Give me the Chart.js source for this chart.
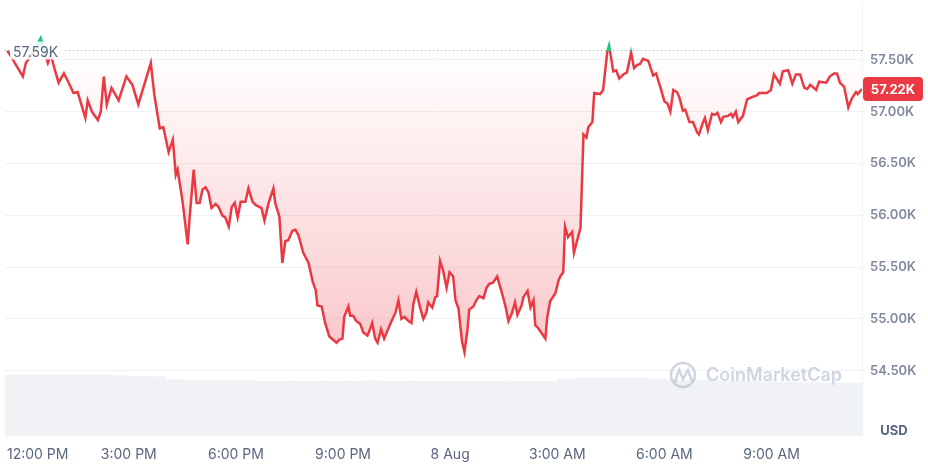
<!DOCTYPE html>
<html>
<head>
<meta charset="utf-8">
<script src="https://cdn.jsdelivr.net/npm/chart.js@4/dist/chart.umd.min.js"></script>
<style>
  html, body { margin: 0; padding: 0; background: #fff; }
  #wrap { width: 928px; height: 465px; }
</style>
</head>
<body>
<div id="wrap"><canvas id="priceChart" width="928" height="465"></canvas></div>
<script>
// minutes from 12:00 PM (7 Aug)
const times = [-24, 2, 7, 20, 32, 44, 49, 55, 62, 71, 79, 87, 94, 107, 111, 118, 128, 133, 138, 143,
  151, 163, 176, 186, 196, 217, 223, 232, 238, 247, 254, 259, 262, 270, 279, 282, 289, 294, 299, 304,
  309, 314, 319, 326, 331, 337, 342, 348, 353, 358, 363, 368, 376, 381, 388, 393, 403, 408, 415, 423,
  426, 433, 438, 443, 448, 455, 460, 465, 473, 482, 489, 494, 497, 504, 510, 517, 529, 534, 539, 542,
  549, 552, 557, 562, 569, 574, 581, 584, 589, 594, 598, 604, 609, 620, 628, 633, 638, 643, 650, 655,
  658, 663, 670, 675, 680, 683, 690, 695, 698, 703, 708, 714, 719, 725, 729, 734, 740, 744, 749, 752,
  759, 764, 769, 776, 781, 786, 792, 799, 808, 813, 818, 824, 829, 833, 840, 843, 850, 855, 860, 863,
  868, 880, 883, 888, 897, 902, 905, 910, 913, 918, 925, 928, 939, 944, 949, 952, 959, 962, 972, 977,
  984, 987, 994, 999, 1004, 1011, 1017, 1024, 1029, 1034, 1039, 1044, 1053, 1061, 1066, 1073, 1080, 1085, 1090, 1095,
  1101, 1105, 1111, 1115, 1122, 1128, 1135, 1138, 1145, 1148, 1153, 1160, 1165, 1169, 1175, 1179, 1187, 1192, 1195, 1200,
  1204, 1212, 1219, 1227, 1236, 1239, 1246, 1252, 1259, 1264, 1274, 1279, 1288, 1295, 1301, 1308, 1315, 1320, 1325, 1335,
  1340, 1352, 1358, 1365, 1370, 1375, 1382, 1389, 1395, 1402, 1405, 1412];

const prices = [57590, 57340, 57470, 57580, 57710, 57470, 57550, 57420, 57280, 57370, 57280, 57180, 57190, 56940, 57110, 57000, 56920, 57000, 57340, 57070,
  57230, 57110, 57340, 57260, 57070, 57470, 57160, 56840, 56850, 56610, 56730, 56390, 56440, 56150, 55720, 55960, 56440, 56120, 56120, 56250,
  56270, 56220, 56070, 56110, 56080, 56000, 55980, 55890, 56080, 56120, 55980, 56130, 56130, 56260, 56130, 56100, 56070, 55950, 56120, 56260,
  56120, 55990, 55540, 55750, 55760, 55850, 55860, 55810, 55640, 55540, 55360, 55280, 55130, 55120, 54960, 54830, 54770, 54800, 54810, 55020,
  55120, 55030, 55030, 54980, 54950, 54870, 54840, 54880, 54960, 54810, 54770, 54900, 54810, 54960, 55060, 55180, 55000, 55020, 54980, 54960,
  55140, 55260, 55100, 55000, 55060, 55160, 55110, 55210, 55220, 55560, 55470, 55300, 55450, 55410, 55180, 55100, 54780, 54680, 54890, 55090,
  55120, 55180, 55220, 55200, 55300, 55340, 55350, 55410, 55230, 55120, 54980, 55060, 55160, 55040, 55130, 55210, 55270, 55110, 55180, 54940,
  54910, 54810, 55010, 55170, 55250, 55370, 55410, 55450, 55890, 55790, 55840, 55640, 55880, 56780, 56750, 56850, 56900, 57180, 57170, 57210,
  57580, 57640, 57390, 57400, 57320, 57360, 57380, 57570, 57420, 57450, 57460, 57510, 57490, 57350, 57370, 57240, 57100, 57080, 57000, 57210,
  57190, 57140, 57010, 57020, 56900, 56900, 56800, 56780, 56900, 56940, 56820, 56980, 56970, 56990, 56900, 56950, 56960, 56980, 56950, 57000,
  56900, 56960, 57120, 57140, 57160, 57180, 57180, 57180, 57210, 57360, 57270, 57390, 57400, 57270, 57360, 57360, 57230, 57220, 57260, 57210,
  57290, 57280, 57340, 57370, 57370, 57280, 57240, 57040, 57130, 57190, 57170, 57220];

// 30 minute volume buckets (billions USD)
const volTimes = [-13, 17, 47, 77, 107, 137, 167, 197, 227, 257, 287, 317, 347, 377, 407, 437,
  467, 497, 527, 557, 587, 617, 647, 677, 707, 737, 767, 797, 827, 857, 887, 917,
  947, 977, 1007, 1037, 1067, 1097, 1127, 1157, 1187, 1217, 1247, 1277, 1307, 1337, 1367, 1397];
const volumes = [34.0, 34.0, 33.9, 34.0, 33.9, 33.8, 33.5, 33.2, 32.9, 31.3, 31.2, 31.1, 31.0, 30.7, 30.6, 30.6,
  30.6, 30.6, 30.6, 30.6, 30.7, 30.6, 30.6, 30.6, 30.6, 30.6, 30.5, 30.5, 30.6, 30.5, 30.6, 31.8,
  32.2, 32.3, 32.3, 32.2, 31.8, 31.2, 31.0, 30.8, 30.6, 30.4, 30.2, 30.0, 29.8, 29.7, 29.6, 29.5];

const yTicks = [54500, 55000, 55500, 56000, 56500, 57000, 57500];
const xTicks = [0, 180, 360, 540, 720, 900, 1080, 1260];
const xLabels = ['12:00 PM', '3:00 PM', '6:00 PM', '9:00 PM', '8 Aug', '3:00 AM', '6:00 AM', '9:00 AM'];
const openPrice = 57590;
const lastPrice = 57220;

const RED = '#ea3943';
const GREEN = '#16c784';
const FONT = 'Inter, "Noto Sans", sans-serif';

function fmtK(v) {
    return (v / 1000).toFixed(2) + 'K';
}

function noPad(s) {
    s.paddingTop = 0;
    s.paddingBottom = 0;
    s.paddingLeft = 0;
    s.paddingRight = 0;
}

const overlay = {
    id: 'overlay',
    afterDraw(chart) {
        const c = chart.ctx;
        const x = chart.scales.x;
        const y = chart.scales.y;

        // x labels, first one kept inside the canvas
        c.save();
        c.font = '14px ' + FONT;
        c.fillStyle = '#58667e';
        c.textBaseline = 'middle';
        xTicks.forEach((t, i) => {
            const w = c.measureText(xLabels[i]).width;
            let left = x.getPixelForValue(t) - w / 2;
            if (left < 7) left = 7;
            c.fillText(xLabels[i], left, 455);
        });

        // open price label
        const yo = y.getPixelForValue(openPrice);
        c.fillStyle = 'rgba(255,255,255,0.85)';
        c.fillRect(10, yo - 9, 53, 18);
        c.fillStyle = '#58667e';
        c.font = '14px ' + FONT;
        c.fillText(fmtK(openPrice), 13, yo + 2);

        // last price tag
        const yl = y.getPixelForValue(lastPrice);
        c.fillStyle = RED;
        c.beginPath();
        c.roundRect(863, yl - 12, 60, 24, 4);
        c.fill();
        c.fillStyle = '#fff';
        c.font = 'bold 13px ' + FONT;
        c.textAlign = 'center';
        c.fillText(fmtK(lastPrice), 893, yl + 1);

        // unit
        c.fillStyle = '#58667e';
        c.font = 'bold 13px ' + FONT;
        c.fillText('USD', 894, 431);
        c.restore();
    },
    afterDatasetsDraw(chart) {
        // watermark
        const c = chart.ctx;
        c.save();
        c.strokeStyle = 'rgba(170,181,198,0.55)';
        c.lineWidth = 2.5;
        c.beginPath();
        c.arc(683, 375, 12, 0, Math.PI * 2);
        c.stroke();
        c.beginPath();
        c.moveTo(675, 382);
        c.lineTo(679, 370);
        c.lineTo(683, 379);
        c.lineTo(688, 370);
        c.lineTo(692, 381);
        c.stroke();
        c.fillStyle = 'rgba(170,181,198,0.55)';
        c.font = '600 18px ' + FONT;
        c.textBaseline = 'middle';
        c.fillText('CoinMarketCap', 706, 376);
        c.restore();
    }
};

const ctx = document.getElementById('priceChart').getContext('2d');
const chart = new Chart(ctx, {
    data: {
        datasets: [
            {
                type: 'line',
                label: 'Price',
                data: prices.map((p, i) => ({ x: times[i], y: p })),
                borderColor: RED,
                borderWidth: 2.5,
                pointRadius: 0,
                tension: 0,
                yAxisID: 'y',
                order: 0,
                fill: { target: { value: openPrice }, above: 'rgba(22,199,132,0.3)', below: 'rgba(234,57,67,0.15)' }
            },
            {
                type: 'line',
                label: 'Open',
                data: [{ x: -28, y: openPrice }, { x: 1412, y: openPrice }],
                borderColor: '#9aa3b5',
                borderWidth: 1,
                borderDash: [1, 3],
                pointRadius: 0,
                yAxisID: 'y',
                order: 1
            },
            {
                type: 'bar',
                label: 'Volume',
                data: volumes.map((v, i) => ({ x: volTimes[i], y: v })),
                backgroundColor: '#f0f2f5',
                barPercentage: 1,
                categoryPercentage: 1,
                yAxisID: 'yv',
                order: 2
            }
        ]
    },
    options: {
        responsive: false,
        animation: false,
        devicePixelRatio: 1,
        layout: { padding: { left: 5, top: 5, right: 0, bottom: 0 } },
        plugins: {
            legend: { display: false },
            tooltip: { enabled: false }
        },
        scales: {
            x: {
                type: 'linear',
                offset: false,
                min: -28,
                max: 1412,
                ticks: { display: false },
                grid: { display: false },
                border: { display: false },
                afterFit: s => { s.height = 29; noPad(s); }
            },
            y: {
                position: 'right',
                min: 53870,
                max: 58030,
                afterBuildTicks: s => { s.ticks = yTicks.map(v => ({ value: v })); },
                ticks: {
                    callback: v => fmtK(v),
                    color: '#808a9d',
                    font: { family: FONT, size: 13, weight: '600' },
                    padding: 8
                },
                grid: { color: '#eff2f5', drawTicks: false },
                border: { display: true, color: '#eff2f5' },
                afterFit: s => { s.width = 66; noPad(s); }
            },
            yv: {
                display: false,
                min: 0,
                max: 240
            }
        }
    },
    plugins: [overlay]
});

function applyGradients() {
    const a = chart.chartArea;
    const y = chart.scales.y;
    const c = chart.ctx;
    const yo = y.getPixelForValue(openPrice);
    const f = (yo - a.top) / (a.bottom - a.top);

    const line = c.createLinearGradient(0, a.top, 0, a.bottom);
    line.addColorStop(0, GREEN);
    line.addColorStop(f, GREEN);
    line.addColorStop(f, RED);
    line.addColorStop(1, RED);

    const below = c.createLinearGradient(0, yo, 0, y.getPixelForValue(54680));
    below.addColorStop(0, 'rgba(234,57,67,0.0)');
    below.addColorStop(1, 'rgba(234,57,67,0.28)');

    const ds = chart.data.datasets[0];
    ds.borderColor = line;
    ds.fill.below = below;
    chart.update();
}

applyGradients();
</script>
</body>
</html>
